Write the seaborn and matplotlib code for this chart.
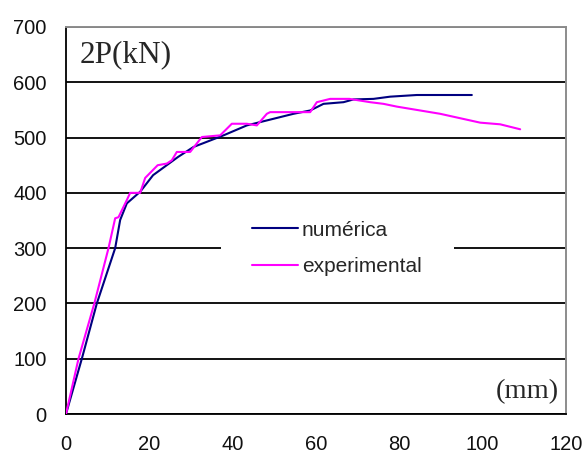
import matplotlib
matplotlib.use("Agg")
import matplotlib.pyplot as plt
from matplotlib.patches import Rectangle
import pandas as pd
import seaborn as sns

# Load-displacement curves: displacement (mm) vs. load 2P (kN)
num_disp = [0, 3.8, 7.4, 11.8, 13.0, 14.6, 17.8, 20.9, 26.9, 30.6, 37.8, 43.4,
            48.2, 54.6, 58.6, 61.8, 66.6, 69.0, 73.8, 77.8, 84.2, 97.4]
num_load = [0, 100, 200, 300, 351, 381, 402, 432, 465, 483, 504, 522,
            531, 543, 549, 561, 564, 569, 570, 574, 577, 577]

exp_disp = [0, 3.0, 6.8, 10.2, 11.8, 12.6, 14.6, 15.4, 17.8, 19.0, 22.0, 24.2,
            25.4, 26.6, 29.8, 32.6, 37.0, 39.8, 43.4, 45.8, 48.2, 49.0, 58.6,
            60.2, 63.4, 68.0, 73.0, 76.2, 79.4, 85.0, 89.8, 94.6, 99.4, 104.2, 109.0]
exp_load = [0, 100, 200, 300, 354, 356, 387, 400, 400, 427, 450, 453,
            459, 474, 474, 501, 504, 525, 525, 522, 543, 546, 546,
            564, 570, 570, 564, 561, 556, 549, 543, 535, 527, 524, 515]

series_names = ["numérica", "experimental"]
series_colors = ["#000080", "#FF00FF"]

x_ticks = [0, 20, 40, 60, 80, 100, 120]
y_ticks = [0, 100, 200, 300, 400, 500, 600, 700]

sns.set_style("white")
plt.rcParams["font.family"] = ["Liberation Sans", "DejaVu Sans"]

df = pd.concat([
    pd.DataFrame({"disp": num_disp, "load": num_load, "serie": series_names[0]}),
    pd.DataFrame({"disp": exp_disp, "load": exp_load, "serie": series_names[1]}),
], ignore_index=True)

fig = plt.figure(figsize=(5.83, 4.54), dpi=100)
ax = fig.add_axes([66 / 583, 1 - 414 / 454, 500 / 583, 387 / 454])

sns.lineplot(data=df, x="disp", y="load", hue="serie", hue_order=series_names,
             palette=series_colors, sort=False, estimator=None, linewidth=1.5,
             ax=ax, legend=False, zorder=3)

ax.set_xlim(0, 120)
ax.set_ylim(0, 700)
ax.set_xticks(x_ticks)
ax.set_yticks(y_ticks)
ax.set_xlabel("")
ax.set_ylabel("")

ax.set_axisbelow(True)
ax.grid(False)
ax.yaxis.grid(True, color="black", linewidth=1.3)

for side in ["top", "right"]:
    ax.spines[side].set_color("#8c8c8c")
    ax.spines[side].set_linewidth(1.4)
for side in ["left", "bottom"]:
    ax.spines[side].set_color("black")
    ax.spines[side].set_linewidth(1.3)

ax.tick_params(axis="both", direction="out", length=6, width=1, color="black",
               labelsize=14.5, labelcolor="#111111")
ax.tick_params(axis="x", pad=9)
ax.tick_params(axis="y", pad=8)

# White panel under the legend, hiding the gridline behind it
ax.add_patch(Rectangle((0.31, 0.335), 0.466, 0.19, transform=ax.transAxes,
                       facecolor="white", edgecolor="none", zorder=1))

handles = [plt.Line2D([], [], color=c, linewidth=1.5) for c in series_colors]
ax.legend(handles, series_names, loc="upper left", bbox_to_anchor=(0.372, 0.5),
          frameon=False, fontsize=15, handlelength=2.2, handletextpad=0.2,
          labelspacing=0.85, borderpad=0, borderaxespad=0)

ax.text(0.028, 0.91, "2P(kN)", transform=ax.transAxes, ha="left", va="baseline",
        fontsize=22.5, family=["Liberation Serif", "DejaVu Serif"])
ax.text(0.986, 0.041, "(mm)", transform=ax.transAxes, ha="right", va="baseline",
        fontsize=20.5, family=["Liberation Serif", "DejaVu Serif"])

fig.savefig("out.png", dpi=100, facecolor="white")
